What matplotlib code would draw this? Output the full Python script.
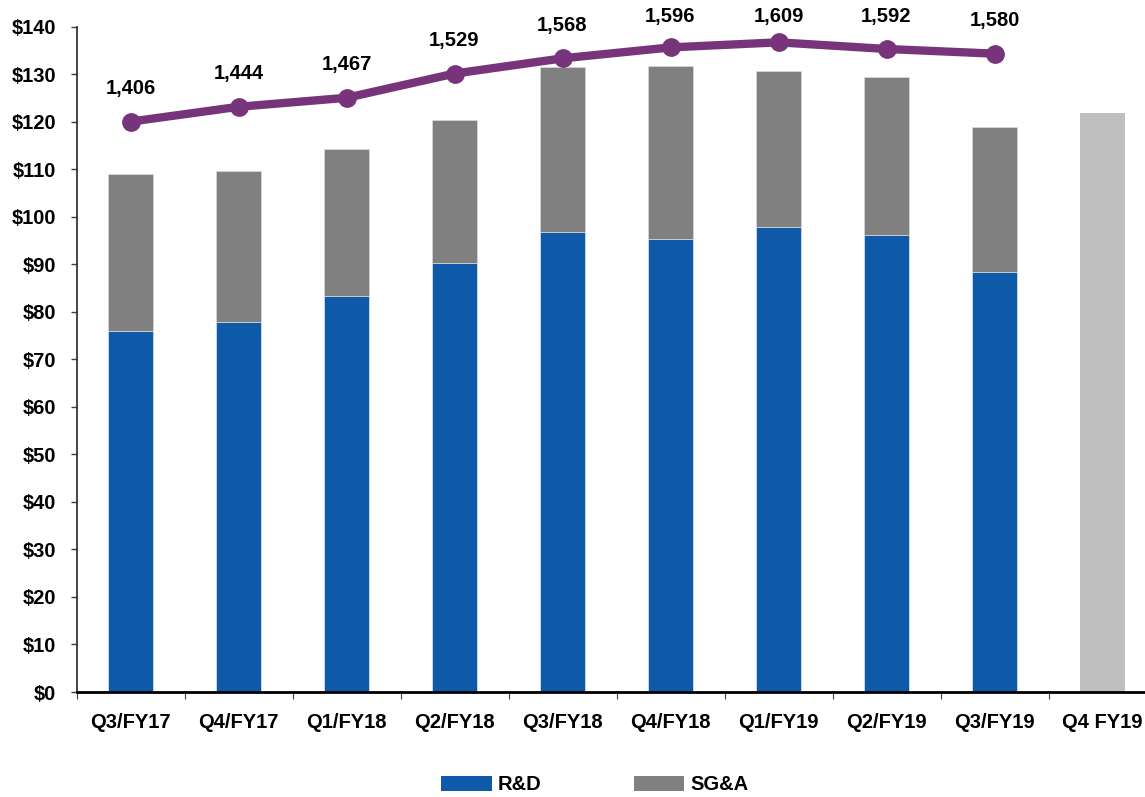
import matplotlib
matplotlib.use("Agg")
import matplotlib.pyplot as plt
from matplotlib.patches import Patch
import numpy as np

plt.rcParams['font.family'] = ['Liberation Sans Narrow', 'Liberation Sans', 'DejaVu Sans']
plt.rcParams['font.weight'] = 'bold'

categories = ["Q3/FY17", "Q4/FY17", "Q1/FY18", "Q2/FY18", "Q3/FY18",
              "Q4/FY18", "Q1/FY19", "Q2/FY19", "Q3/FY19", "Q4 FY19"]
rd = [76.0, 77.9, 83.4, 90.2, 96.9, 95.4, 97.8, 96.2, 88.4]
total = [108.9, 109.6, 114.3, 120.3, 131.5, 131.8, 130.6, 129.4, 118.8]
sga = [t - r for t, r in zip(total, rd)]
outlook_total = 121.8
headcount = [1406, 1444, 1467, 1529, 1568, 1596, 1609, 1592, 1580]
yticks = list(range(0, 141, 10))

BLUE = "#0f5aa8"
GRAY = "#808080"
LGRAY = "#bfbfbf"
PURPLE = "#77347b"

W, H = 1145, 797
fig = plt.figure(figsize=(W / 100, H / 100), dpi=100)
left, bottom = 76.5 / W, (H - 692) / H
ax = fig.add_axes([left, bottom, 1080 / W, 665.3 / H])

x = np.arange(len(rd))
bw = 0.41
ax.bar(x, rd, width=bw, color=BLUE, edgecolor="#dfe6f0", linewidth=0.5, zorder=2)
ax.bar(x, sga, bottom=rd, width=bw, color=GRAY, edgecolor="#d9d9d9", linewidth=0.5, zorder=2)
ax.bar([len(rd)], [outlook_total], width=bw, color=LGRAY, linewidth=0, zorder=2)

ax.set_xlim(-0.5, len(categories) - 0.5)
ax.set_ylim(0, 140)
ax.set_yticks(yticks)
ax.set_yticklabels([f"${v}" for v in yticks], fontsize=14.5, fontweight='bold')
ax.set_xticks(np.arange(len(categories)))
ax.set_xticklabels(categories, fontsize=14.5, fontweight='bold')
ax.set_xticks(np.arange(-0.5, len(categories) + 0.5, 1), minor=True)
ax.tick_params(axis='x', which='major', length=0, pad=15)
ax.tick_params(axis='x', which='minor', length=5, width=0.8, color="#404040")
ax.tick_params(axis='y', length=4.5, width=1, pad=10, color="#404040")
for s in ("top", "right"):
    ax.spines[s].set_visible(False)
ax.spines["left"].set_color("#262626")
ax.spines["left"].set_linewidth(1.2)
ax.spines["bottom"].set_color("#000000")
ax.spines["bottom"].set_linewidth(2)

ax2 = ax.twinx()
ax2.set_ylim(-54, 1649)
ax2.axis("off")
ax2.plot(x, headcount, color=PURPLE, linewidth=6, marker="o", markersize=12.5,
         solid_capstyle="round", zorder=3)
fig.canvas.draw()
for xi, h in zip(x, headcount):
    ydisp = ax2.transData.transform((xi, h))[1]
    off_px = min(33.0, (H - 16.5) - ydisp)
    ax2.annotate(f"{h:,}", (xi, h), xytext=(0, off_px * 72 / 100), textcoords="offset points",
                 ha="center", va="center", fontsize=14.5, fontweight="bold", color="#000000")

handles = [Patch(facecolor=BLUE, label="R&D"), Patch(facecolor=GRAY, label="SG&A")]
fig.legend(handles=handles, loc="center", bbox_to_anchor=(595 / W, 1 - 785 / H),
           ncol=2, frameon=False, prop={'size': 14.5, 'weight': 'bold'},
           handlelength=2.5, handleheight=0.7, handletextpad=0.3, columnspacing=4.6,
           borderpad=0.1)

fig.savefig("out.png", dpi=100)
